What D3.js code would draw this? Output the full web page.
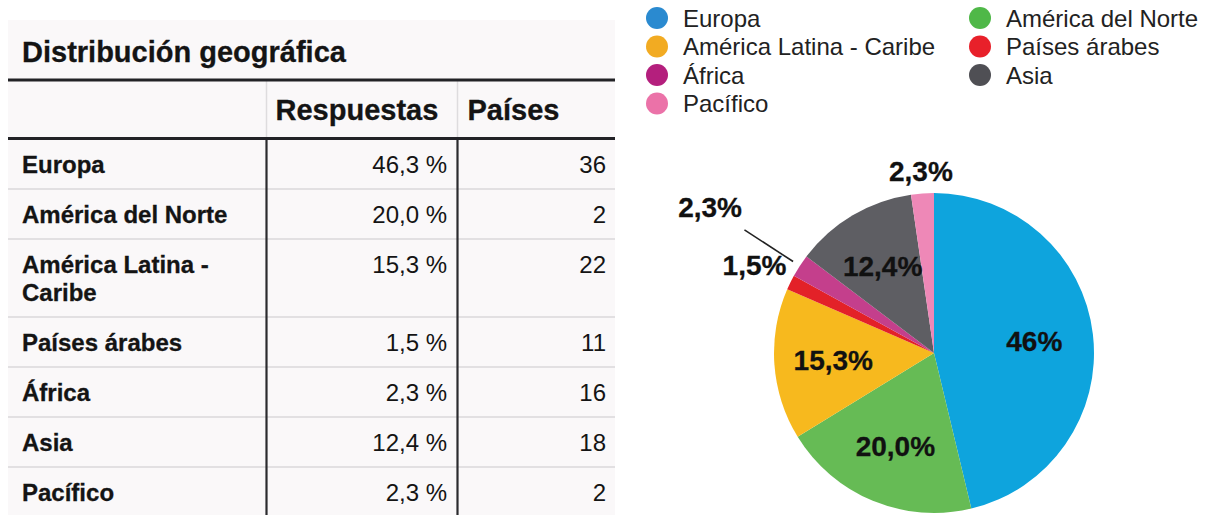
<!DOCTYPE html>
<html lang="es">
<head>
<meta charset="utf-8">
<script src="https://cdn.jsdelivr.net/npm/d3@7"></script>
<style>
  html, body { margin: 0; padding: 0; background: #ffffff; }
  svg { display: block; font-family: "Liberation Sans", Arial, Helvetica, sans-serif; }
</style>
</head>
<body>
<svg id="chart" width="1210" height="515"></svg>
<script>
// Regions and survey figures
const regions = ["Europa", "América del Norte", "América Latina - Caribe", "Países árabes", "África", "Asia", "Pacífico"];
const tableNames = [["Europa"], ["América del Norte"], ["América Latina -", "Caribe"], ["Países árabes"], ["África"], ["Asia"], ["Pacífico"]];
const responses = [46.3, 20.0, 15.3, 1.5, 2.3, 12.4, 2.3];
const countries = [36, 2, 22, 11, 16, 18, 2];
const pieLabels = ["46%", "20,0%", "15,3%", "1,5%", "2,3%", "12,4%", "2,3%"];
const tableTitle = "Distribución geográfica";
const columnHeads = ["Respuestas", "Países"];

// Colours
const pieColors = ["#0ea4dd", "#66bb55", "#f7b91e", "#e32128", "#c43f8c", "#5e5e63", "#ee88b7"];
const legendColors = ["#2a8ad0", "#4fb848", "#f2ab22", "#e8202a", "#b41f7d", "#4f4f54", "#eb72a8"];

const svg = d3.select("#chart");
const ink = "#141414";

// ---------- Table ----------
const T = { x0: 8, x1: 615, top: 20, titleBase: 62, rule1: 80, headBase: 120, rule2: 138.5,
            col1: 266.5, col2: 457.5, valRight: 447, cntRight: 606, labelX: 22,
            bodyTop: 139, rowH: 50, lineH: 28 };

svg.append("rect").attr("x", T.x0).attr("y", T.top).attr("width", T.x1 - T.x0).attr("height", 515 - T.top)
  .attr("fill", "#faf8f9");

svg.append("text").attr("x", T.labelX).attr("y", T.titleBase)
  .attr("font-size", 29).attr("font-weight", "bold").attr("fill", ink)
  .attr("stroke", ink).attr("stroke-width", 0.3).text(tableTitle);

// row extents
const rowTops = [];
let yy = T.bodyTop;
tableNames.forEach(lines => { rowTops.push(yy); yy += T.rowH + (lines.length - 1) * T.lineH; });
const bodyBottom = 515;

// light row separators
svg.append("g").selectAll("line").data(rowTops.slice(1)).join("line")
  .attr("x1", T.x0).attr("x2", T.x1).attr("y1", d => d).attr("y2", d => d)
  .attr("stroke", "#e2e0e2").attr("stroke-width", 2);

// header column separators (light)
[T.col1, T.col2].forEach(x => {
  svg.append("line").attr("x1", x).attr("x2", x).attr("y1", T.rule1).attr("y2", T.rule2)
    .attr("stroke", "#dedcde").attr("stroke-width", 1.5);
});
// body column separators (dark)
[T.col1, T.col2].forEach(x => {
  svg.append("line").attr("x1", x).attr("x2", x).attr("y1", T.rule2).attr("y2", bodyBottom)
    .attr("stroke", "#2b2b2e").attr("stroke-width", 2.2);
});

// heavy rules
[T.rule1, T.rule2].forEach(y => {
  svg.append("line").attr("x1", T.x0).attr("x2", T.x1).attr("y1", y).attr("y2", y)
    .attr("stroke", "#222226").attr("stroke-width", 3);
});

// column headings
svg.append("text").attr("x", T.col1 + 9).attr("y", T.headBase)
  .attr("font-size", 29).attr("font-weight", "bold").attr("fill", ink)
  .attr("stroke", ink).attr("stroke-width", 0.3).text(columnHeads[0]);
svg.append("text").attr("x", T.col2 + 10).attr("y", T.headBase)
  .attr("font-size", 29).attr("font-weight", "bold").attr("fill", ink)
  .attr("stroke", ink).attr("stroke-width", 0.3).text(columnHeads[1]);

const fmtPct = v => d3.format(".1f")(v).replace(".", ",") + " %";

const rows = svg.append("g").selectAll("g").data(regions).join("g")
  .attr("transform", (d, i) => `translate(0,${rowTops[i] + 34})`);

rows.append("text").attr("x", T.labelX).attr("font-size", 24).attr("font-weight", "bold").attr("fill", ink)
  .attr("stroke", ink).attr("stroke-width", 0.3)
  .each(function(d, i) {
    d3.select(this).selectAll("tspan").data(tableNames[i]).join("tspan")
      .attr("x", T.labelX).attr("dy", (t, j) => j === 0 ? 0 : T.lineH).text(t => t);
  });
rows.append("text").attr("x", T.valRight).attr("text-anchor", "end")
  .attr("font-size", 24).attr("fill", ink).text((d, i) => fmtPct(responses[i]));
rows.append("text").attr("x", T.cntRight).attr("text-anchor", "end")
  .attr("font-size", 24).attr("fill", ink).text((d, i) => countries[i]);

// ---------- Legend ----------
const L = { cols: [657, 980], textOff: 26, y0: 18, step: 28.5, r: 11 };
const leg = svg.append("g").selectAll("g").data(regions).join("g")
  .attr("transform", (d, i) => `translate(${L.cols[i % 2]},${L.y0 + Math.floor(i / 2) * L.step})`);
leg.append("circle").attr("r", L.r).attr("fill", (d, i) => legendColors[i]);
leg.append("text").attr("x", L.textOff).attr("dy", "0.36em")
  .attr("font-size", 24).attr("fill", "#222").text(d => d);

// ---------- Pie ----------
const cx = 934, cy = 353, R = 160;
const pie = d3.pie().sort(null).value(d => d)(responses);
const arc = d3.arc().innerRadius(0).outerRadius(R);
const g = svg.append("g").attr("transform", `translate(${cx},${cy})`);

g.selectAll("path").data(pie).join("path")
  .attr("d", arc).attr("fill", (d, i) => pieColors[i]);

// label radius per slice; small slices sit outside the disc
const labelR = [101, 101, 101, 200, 267, 101, 182];
const mid = d => (d.startAngle + d.endAngle) / 2;
const at = (d, r) => [Math.sin(mid(d)) * r, -Math.cos(mid(d)) * r];

// leader line for África
const af = pie[4];
g.append("line")
  .attr("x1", at(af, 168)[0]).attr("y1", at(af, 168)[1])
  .attr("x2", at(af, 226)[0]).attr("y2", at(af, 226)[1])
  .attr("stroke", "#222").attr("stroke-width", 1.6);

g.selectAll("text").data(pie).join("text")
  .attr("x", (d, i) => at(d, labelR[i])[0])
  .attr("y", (d, i) => at(d, labelR[i])[1])
  .attr("dy", "0.35em").attr("text-anchor", "middle")
  .attr("font-size", 28).attr("font-weight", "bold").attr("fill", "#111")
  .attr("stroke", "#111").attr("stroke-width", 0.3)
  .text((d, i) => pieLabels[i]);
</script>
</body>
</html>
